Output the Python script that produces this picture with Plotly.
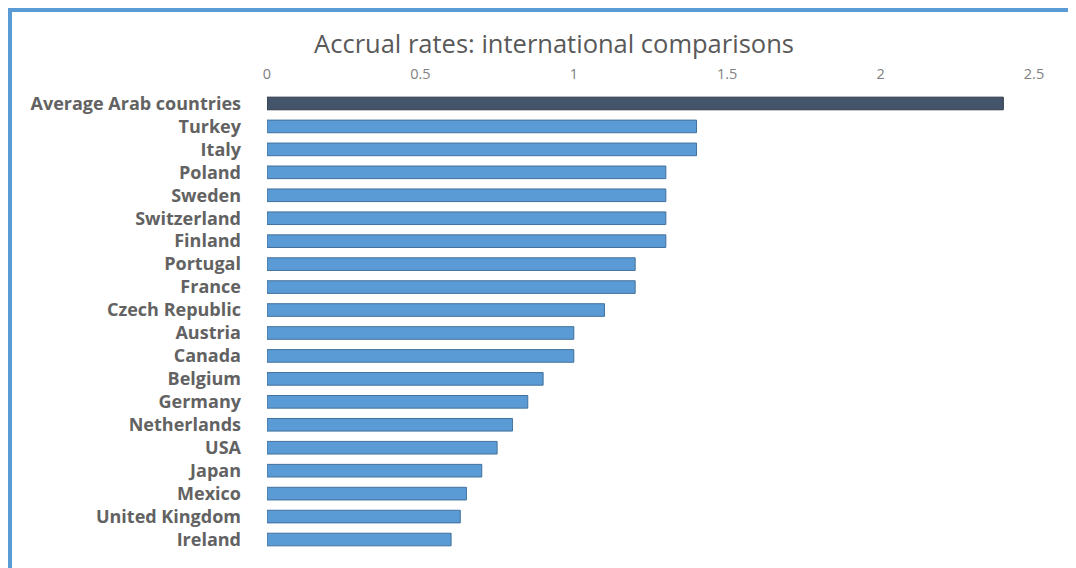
import plotly.graph_objects as go

countries = ["Average Arab countries", "Turkey", "Italy", "Poland", "Sweden", "Switzerland",
             "Finland", "Portugal", "France", "Czech Republic", "Austria", "Canada", "Belgium",
             "Germany", "Netherlands", "USA", "Japan", "Mexico", "United Kingdom", "Ireland"]
rates = [2.4, 1.4, 1.4, 1.3, 1.3, 1.3, 1.3, 1.2, 1.2, 1.1, 1.0, 1.0, 0.9,
         0.85, 0.8, 0.75, 0.7, 0.65, 0.63, 0.6]
tick_vals = [0, 0.5, 1, 1.5, 2, 2.5]
tick_text = ["0", "0.5", "1", "1.5", "2", "2.5"]

fill_colors = ["#44546A"] + ["#5B9BD5"] * (len(countries) - 1)
line_colors = ["#2E3A4A"] + ["#41719C"] * (len(countries) - 1)

OFF = 8  # page body margin
W, H = 1076 - OFF, 568 - OFF
L = 267 - OFF
R = 1076 - 1034
T = 92 - OFF
B = 568 - 551
pw, ph = W - L - R, H - T - B

def px(x):
    return (x - OFF - L) / pw

def py(y):
    return (H - B - (y - OFF)) / ph

fig = go.Figure(go.Bar(
    x=rates, y=countries, orientation="h", width=0.55,
    marker=dict(color=fill_colors, line=dict(color=line_colors, width=1)),
    hoverinfo="x+y",
))

fig.update_layout(
    width=W, height=H,
    margin=dict(l=L, r=R, t=T, b=B),
    paper_bgcolor="white", plot_bgcolor="white",
    showlegend=False,
    title=dict(text="Accrual rates: international comparisons",
               x=(554 - OFF) / W, xref="container", xanchor="center",
               y=1 - (44 - OFF) / H, yref="container", yanchor="middle",
               font=dict(family="Open Sans", size=25.5, color="#595959")),
    xaxis=dict(side="top", range=[0, 2.5], tickvals=tick_vals, ticktext=tick_text,
               showgrid=False, zeroline=False, showline=False, ticks="",
               ticklabelstandoff=9,
               tickfont=dict(family="Open Sans", size=14.5, color="#7F7F7F")),
    yaxis=dict(autorange="reversed", showgrid=False, zeroline=False, showline=False,
               ticks="", ticklabelstandoff=25,
               tickfont=dict(family="Open Sans", size=18, color="#626262", weight="bold")),
    shapes=[
        dict(type="rect", xref="paper", yref="paper", x0=px(7), x1=px(12), y0=py(568 + 20), y1=py(7),
             fillcolor="#5B9BD5", line=dict(width=0), layer="above"),
        dict(type="rect", xref="paper", yref="paper", x0=px(7), x1=px(1076 + 20), y0=py(12), y1=py(7),
             fillcolor="#5B9BD5", line=dict(width=0), layer="above"),
    ],
)

fig.write_html("out.html")
